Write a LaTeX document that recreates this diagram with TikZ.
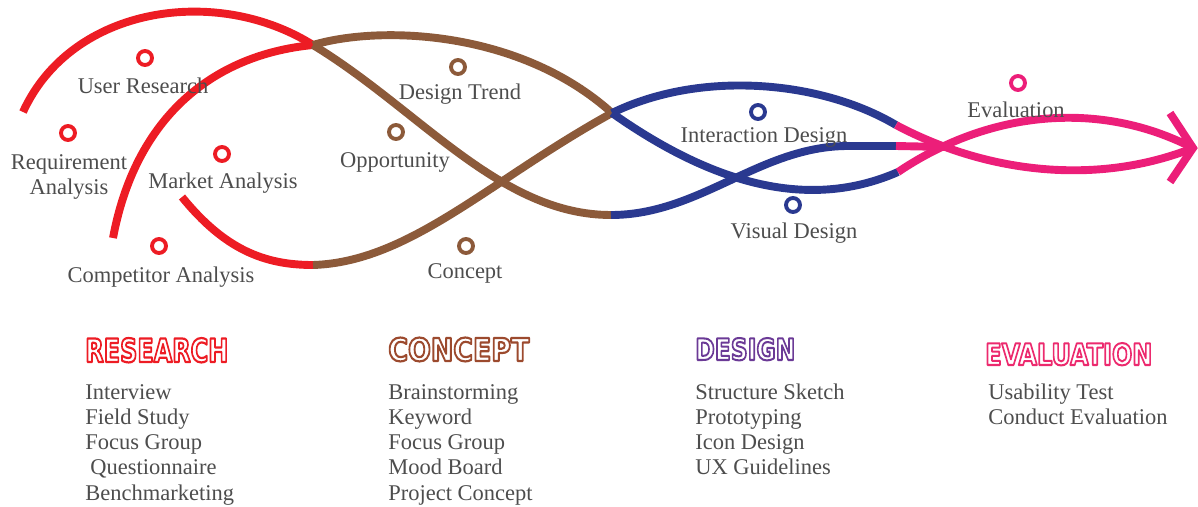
\documentclass[tikz,border=0pt]{standalone}
\usepackage{fontspec}
\setmainfont{Liberation Serif}
\newfontfamily\headfont{DejaVu Sans}
\definecolor{redline}{HTML}{ED1C24}
\definecolor{brownline}{HTML}{8C5A3A}
\definecolor{blueline}{HTML}{2A3990}
\definecolor{pinkline}{HTML}{EC1E79}
\definecolor{conhead}{HTML}{9C4A2E}
\definecolor{deshead}{HTML}{6B3A96}
\definecolor{evahead}{HTML}{EC2A6E}
\definecolor{ink}{HTML}{4D4D4D}
\newcommand\hollowtext[1]{\special{pdf:literal direct 1 Tr 1.1 w}#1\special{pdf:literal direct 0 Tr}}
\begin{document}
\begin{tikzpicture}[x=0.02cm, y=-0.02cm, font=\fontsize{12.8}{14.4}\selectfont, line join=round]
	\tikzset{
		band/.style={line width=4.5pt, #1},
		ring/.style={circle, draw=#1, line width=2.2pt, minimum size=0.28cm, inner sep=0pt},
		lbl/.style={text=ink, anchor=base, inner sep=0pt},
		item/.style={text=ink, anchor=base west, inner sep=0pt},
		head/.style={anchor=base west, inner sep=0pt, font=\headfont\bfseries\fontsize{16}{16}\selectfont}
	}
	\useasboundingbox (0,0) rectangle (1198,507);
	% junctions of the bands
	\coordinate (rA) at (23,112);
	\coordinate (rB) at (113,238);
	\coordinate (rC) at (182,197);
	\coordinate (knotA) at (313,45);
	\coordinate (knotB) at (313,265);
	\coordinate (knotC) at (612,113);
	\coordinate (knotD) at (611,215);
	\coordinate (pUp) at (896,125);
	\coordinate (pMid) at (896,146);
	\coordinate (pLow) at (898,172);
	\coordinate (pCross) at (945,147);
	\coordinate (tip) at (1193,148);
	\coordinate (tipU) at (1170,113);
	\coordinate (tipL) at (1170,182);
	% research
	\draw[band=redline] (rA) .. controls (72,5) and (218,-15) .. (knotA);
	\draw[band=redline] (rB) .. controls (135,120) and (210,55) .. (knotA);
	\draw[band=redline] (rC) .. controls (225,250) and (265,265) .. (knotB);
	% concept
	\draw[band=brownline] (knotA) .. controls (380,25) and (520,30) .. (knotC);
	\draw[band=brownline] (knotA) .. controls (420,110) and (500,215) .. (knotD);
	\draw[band=brownline] (knotB) .. controls (410,262) and (490,180) .. (knotC);
	% design
	\draw[band=blueline] (knotC) .. controls (700,70) and (820,80) .. (pUp);
	\draw[band=blueline] (knotD) .. controls (700,215) and (760,146) .. (848,146) -- (pMid);
	\draw[band=blueline] (knotC) .. controls (700,175) and (800,215) .. (pLow);
	% evaluation
	\draw[band=pinkline] (pUp) .. controls (990,175) and (1100,185) .. (tip);
	\draw[band=pinkline] (pLow) .. controls (990,110) and (1100,100) .. (tip);
	\draw[band=pinkline] (pMid) -- (pCross);
	\draw[band=pinkline, line join=miter] (tipU) -- (tip) -- (tipL);
	% stages on the bands
	\node[ring=redline] (oUser) at (145,58) {};
	\node[ring=redline] (oReq) at (68,133) {};
	\node[ring=redline] (oMarket) at (222,154) {};
	\node[ring=redline] (oComp) at (159,246) {};
	\node[ring=brownline] (oTrend) at (458,67) {};
	\node[ring=brownline] (oOpp) at (396,132) {};
	\node[ring=brownline] (oConcept) at (466,246) {};
	\node[ring=blueline] (oInter) at (758,112) {};
	\node[ring=blueline] (oVisual) at (793,205) {};
	\node[ring=pinkline] (oEval) at (1018,83) {};
	\node[lbl] (tUser) at (143,93) {User Research};
	\node[lbl, anchor=north, align=center] (tReq) at (69,154) {Requirement\\Analysis};
	\node[lbl] (tMarket) at (223,188) {Market Analysis};
	\node[lbl] (tComp) at (161,282) {Competitor Analysis};
	\node[lbl] (tTrend) at (460,99) {Design Trend};
	\node[lbl] (tOpp) at (395,167) {Opportunity};
	\node[lbl] (tConcept) at (465,278) {Concept};
	\node[lbl] (tInter) at (764,142) {Interaction Design};
	\node[lbl] (tVisual) at (794,238) {Visual Design};
	\node[lbl] (tEval) at (1016,117) {Evaluation};
	% phases and methods
	\node[head, text=redline] (hResearch) at (85,362) {\resizebox{2.86cm}{0.48cm}{\hollowtext{RESEARCH}}};
	\node[head, text=conhead] (hConcept) at (388,361) {\resizebox{2.82cm}{0.47cm}{\hollowtext{CONCEPT}}};
	\node[head, text=deshead] (hDesign) at (695,360) {\resizebox{2.0cm}{0.44cm}{\hollowtext{DESIGN}}};
	\node[head, text=evahead] (hEval) at (985,365) {\resizebox{3.34cm}{0.44cm}{\hollowtext{EVALUATION}}};
	\foreach \t [count=\i] in {Interview, Field Study, Focus Group, {\hspace{1mm}Questionnaire}, Benchmarketing}
		\node[item] (mR\i) at (85,{399+25.3*(\i-1)}) {\t};
	\foreach \t [count=\i] in {Brainstorming, Keyword, Focus Group, Mood Board, Project Concept}
		\node[item] (mC\i) at (388,{399+25.3*(\i-1)}) {\t};
	\foreach \t [count=\i] in {Structure Sketch, Prototyping, Icon Design, UX Guidelines}
		\node[item] (mD\i) at (695,{399+25.3*(\i-1)}) {\t};
	\foreach \t [count=\i] in {Usability Test, Conduct Evaluation}
		\node[item] (mE\i) at (988,{399+25.3*(\i-1)}) {\t};
\end{tikzpicture}
\end{document}
